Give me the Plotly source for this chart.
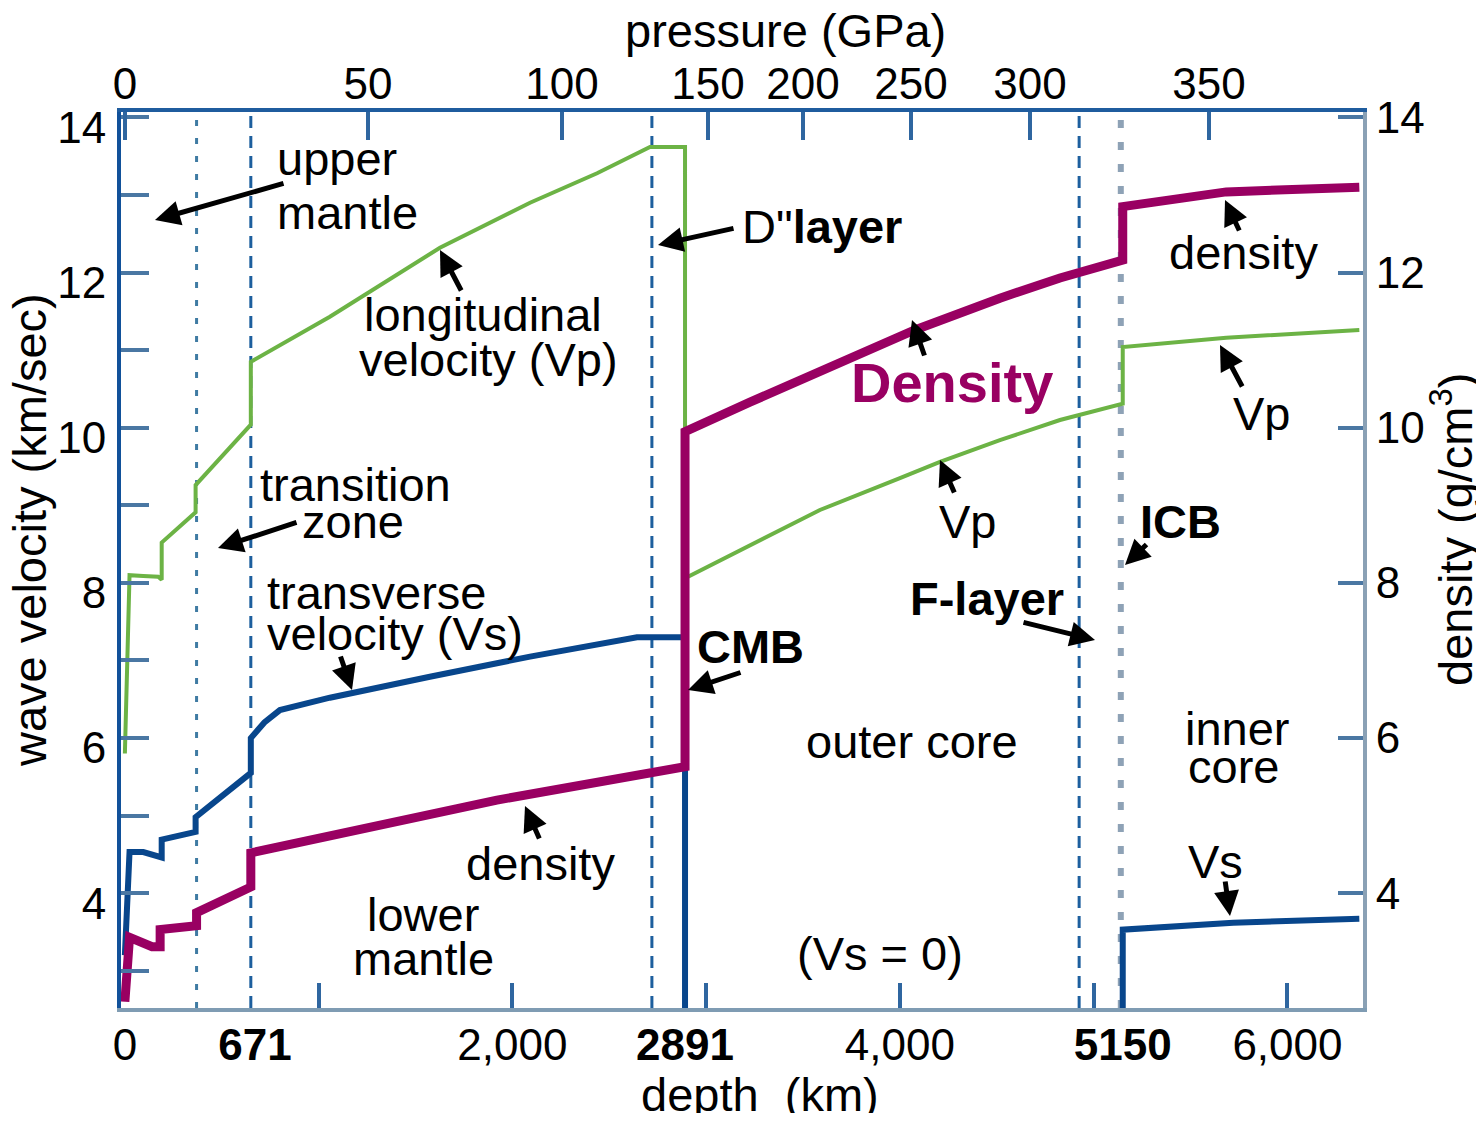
import plotly.graph_objects as go

# ---------------- data ----------------
DEPTH_VP_KM = [0, 12, 24, 95, 172, 190, 190, 365, 365, 650, 650, 1058, 1626, 2091, 2437, 2710, 2891,
               2891, 3226, 3587, 4000, 4207, 4516, 4826, 5150, 5150, 5684, 6371]
VP_KM_S = [5.8, 6.8, 8.10, 8.09, 8.08, 8.04, 8.52, 8.91, 9.26, 10.04, 10.85, 11.43, 12.32, 12.90, 13.28, 13.62, 13.62,
           8.06, 8.49, 8.94, 9.35, 9.56, 9.84, 10.10, 10.31, 11.04, 11.16, 11.26]

DEPTH_VS_KM = [0, 12, 24, 95, 190, 190, 365, 365, 650, 650, 720, 800, 1058, 1574, 2091, 2643, 2891,
               2891, 5150, 5150, 5720, 6371]
VS_KM_S = [3.2, 3.9, 4.53, 4.53, 4.46, 4.69, 4.79, 4.98, 5.55, 6.00, 6.20, 6.36, 6.52, 6.79, 7.05, 7.30, 7.30,
           0.0, 0.0, 3.53, 3.62, 3.67]

DEPTH_RHO_KM = [0, 12, 24, 140, 182, 182, 370, 370, 650, 650, 903, 1920, 2891,
                2891, 3226, 3587, 4077, 4516, 4826, 5150, 5150, 5684, 6371]
RHO_G_CM3 = [2.6, 2.9, 3.43, 3.31, 3.31, 3.53, 3.58, 3.75, 4.08, 4.52, 4.65, 5.20, 5.63,
             9.95, 10.33, 10.72, 11.26, 11.67, 11.93, 12.16, 12.85, 13.04, 13.10]

DEPTH_TICKS_KM = [1000, 2000, 3000, 4000, 5000, 6000]
DEPTH_LABEL_KM = [0, 671, 2000, 2891, 4000, 5150, 6000]
DEPTH_LABELS = ["0", "<b>671</b>", "2,000", "<b>2891</b>", "4,000", "<b>5150</b>", "6,000"]

PRESSURE_AT_DEPTH_KM = [0, 1255, 2256, 3009, 3500, 4057, 4671, 5595]
PRESSURE_LABELS = ["0", "50", "100", "150", "200", "250", "300", "350"]

VELOCITY_TICKS = list(range(3, 15))
VELOCITY_LABELS = [str(v) if v % 2 == 0 else "" for v in VELOCITY_TICKS]
DENSITY_TICKS = [4, 6, 8, 10, 12, 14]
DENSITY_LABELS = [str(v) for v in DENSITY_TICKS]

DOTTED_BOUNDARY_KM = [370]
DASHED_BOUNDARY_KM = [650, 2720, 4925]
ICB_MARK_KM = [5140]

# ---------------- style / geometry ----------------
PAGE = 8                       # default page margin around the figure
W, H = 1484 - 2 * PAGE, 1121 - 2 * PAGE
ML, MT = 121 - PAGE, 112 - PAGE
MR = W - (1363 - PAGE)
MB = H - (1008 - PAGE)
X_RANGE = [-20, 6390]
Y_RANGE = [2.52, 14.07]
FONT = "Liberation Sans, Arial, sans-serif"
FS = 47
TFS = 44

GREEN = "#6cb345"
BLUE = "#08468c"
PURPLE = "#990062"


def px_x(px):
    return (px - PAGE - ML) / (W - ML - MR)


def px_y(py):
    return (H - MB - (py - PAGE)) / (H - MT - MB)


fig = go.Figure()
fig.add_trace(go.Scatter(x=DEPTH_VP_KM, y=VP_KM_S, mode="lines", line=dict(color=GREEN, width=4),
                         name="Vp", xaxis="x2", yaxis="y", hoverinfo="x+y"))
fig.add_trace(go.Scatter(x=DEPTH_VS_KM, y=VS_KM_S, mode="lines", line=dict(color=BLUE, width=6),
                         name="Vs", xaxis="x", yaxis="y", hoverinfo="x+y"))
fig.add_trace(go.Scatter(x=DEPTH_RHO_KM, y=RHO_G_CM3, mode="lines", line=dict(color=PURPLE, width=9),
                         name="density", xaxis="x3", yaxis="y2", hoverinfo="x+y"))

shapes = []
for d in DOTTED_BOUNDARY_KM:
    shapes.append(dict(type="line", xref="x", yref="paper", x0=d, x1=d, y0=0, y1=1, layer="below",
                       line=dict(color="#3f7ba3", width=3, dash="6px,12px")))
for d in DASHED_BOUNDARY_KM:
    shapes.append(dict(type="line", xref="x", yref="paper", x0=d, x1=d, y0=0, y1=1, layer="below",
                       line=dict(color="#1d5f9e", width=3, dash="12px,8px")))
for d in ICB_MARK_KM:
    shapes.append(dict(type="line", xref="x", yref="paper", x0=d, x1=d, y0=0, y1=1, layer="below",
                       line=dict(color="#8ea2b6", width=6, dash="8px,14px")))

ann = []


def text(s, px, py, anchor="center", size=FS, color="black"):
    ann.append(dict(text=s, x=px_x(px), y=px_y(py), xref="paper", yref="paper", showarrow=False,
                    xanchor=anchor, yanchor="middle", font=dict(family=FONT, size=size, color=color)))


def arrow(tail, tip):
    ann.append(dict(text="", x=px_x(tip[0]), y=px_y(tip[1]), xref="paper", yref="paper",
                    ax=tail[0] - tip[0], ay=tail[1] - tip[1], axref="pixel", ayref="pixel",
                    showarrow=True, arrowhead=2, arrowsize=1.0, arrowwidth=5, arrowcolor="black",
                    standoff=0, startstandoff=0))


# axis titles
text("pressure (GPa)", 785, 31)
text("depth  (km)", 760, 1094)
ann.append(dict(text="wave velocity (km/sec)", x=px_x(29), y=px_y(530), xref="paper", yref="paper",
                showarrow=False, textangle=-90, xanchor="center", yanchor="middle",
                font=dict(family=FONT, size=FS, color="black")))
ann.append(dict(text="density (g/cm<sup>3</sup>)", x=px_x(1452), y=px_y(530), xref="paper", yref="paper",
                showarrow=False, textangle=-90, xanchor="center", yanchor="middle",
                font=dict(family=FONT, size=FS, color="black")))

# in-plot labels
text("upper", 275, 159, "left")
text("mantle", 275, 212, "left")
text("longitudinal", 483, 314)
text("velocity (Vp)", 488, 359)
text("D\"<b>layer</b>", 740, 226, "left")
text("transition", 258, 484, "left")
text("zone", 300, 521, "left")
text("transverse", 265, 592, "left")
text("velocity (Vs)", 265, 633, "left")
text("density", 540, 863)
text("lower", 423, 914)
text("mantle", 423, 958)
text("<b>CMB</b>", 695, 646, "left")
text("<b>Density</b>", 952, 383, size=56, color=PURPLE)
text("Vp", 968, 521)
text("outer core", 912, 741)
text("(Vs = 0)", 880, 953)
text("<b>F-layer</b>", 987, 598)
text("<b>ICB</b>", 1180, 521)
text("density", 1243, 252)
text("Vp", 1262, 413)
text("inner", 1237, 728)
text("core", 1233, 766)
text("Vs", 1215, 861)

arrow((285, 183), (155, 220))
arrow((462, 292), (440, 250))
arrow((735, 228), (658, 245))
arrow((298, 522), (218, 548))
arrow((340, 655), (352, 690))
arrow((540, 840), (525, 806))
arrow((742, 672), (688, 690))
arrow((925, 357), (912, 320))
arrow((955, 494), (940, 460))
arrow((1022, 622), (1095, 640))
arrow((1148, 543), (1125, 565))
arrow((1240, 232), (1225, 200))
arrow((1243, 388), (1220, 345))
arrow((1225, 880), (1230, 916))

tickfont = dict(family=FONT, size=TFS, color="black")

fig.update_layout(
    width=W, height=H,
    margin=dict(l=ML, r=MR, t=MT, b=MB, autoexpand=False),
    paper_bgcolor="white", plot_bgcolor="white",
    showlegend=False,
    shapes=shapes,
    annotations=ann,
    xaxis=dict(range=X_RANGE, showgrid=False, zeroline=False, showline=True, linecolor="#7f9cb3", linewidth=4,
               tickmode="array", tickvals=DEPTH_TICKS_KM, ticks="inside", ticklen=25, tickwidth=4,
               tickcolor="#2f66a0", showticklabels=False),
    xaxis3=dict(range=X_RANGE, overlaying="x", side="bottom", anchor="y", showgrid=False, zeroline=False,
                showline=False, tickmode="array", tickvals=DEPTH_LABEL_KM, ticktext=DEPTH_LABELS,
                ticks="", tickfont=tickfont, ticklabelstandoff=7),
    xaxis2=dict(range=X_RANGE, overlaying="x", side="top", anchor="y", showgrid=False, zeroline=False,
                showline=True, linecolor="#1f5c9e", linewidth=4, tickmode="array",
                tickvals=PRESSURE_AT_DEPTH_KM, ticktext=PRESSURE_LABELS, ticks="inside", ticklen=28,
                tickwidth=4, tickcolor="#2f66a0", tickfont=tickfont, ticklabelstandoff=-9),
    yaxis=dict(range=Y_RANGE, showgrid=False, zeroline=False, showline=True, linecolor="#11519a", linewidth=4,
               tickmode="array", tickvals=VELOCITY_TICKS, ticktext=VELOCITY_LABELS, ticks="inside",
               ticklen=28, tickwidth=4, tickcolor="#4a77a3", tickfont=tickfont, ticklabelstandoff=2,
               ticklabelshift=10),
    yaxis2=dict(range=Y_RANGE, overlaying="y", side="right", anchor="x", showgrid=False, zeroline=False,
                showline=True, linecolor="#8aa1b5", linewidth=4, tickmode="array", tickvals=DENSITY_TICKS,
                ticktext=DENSITY_LABELS, ticks="inside", ticklen=25, tickwidth=4, tickcolor="#4a77a3",
                tickfont=tickfont, ticklabelstandoff=0),
)

fig.write_html("out.html")
